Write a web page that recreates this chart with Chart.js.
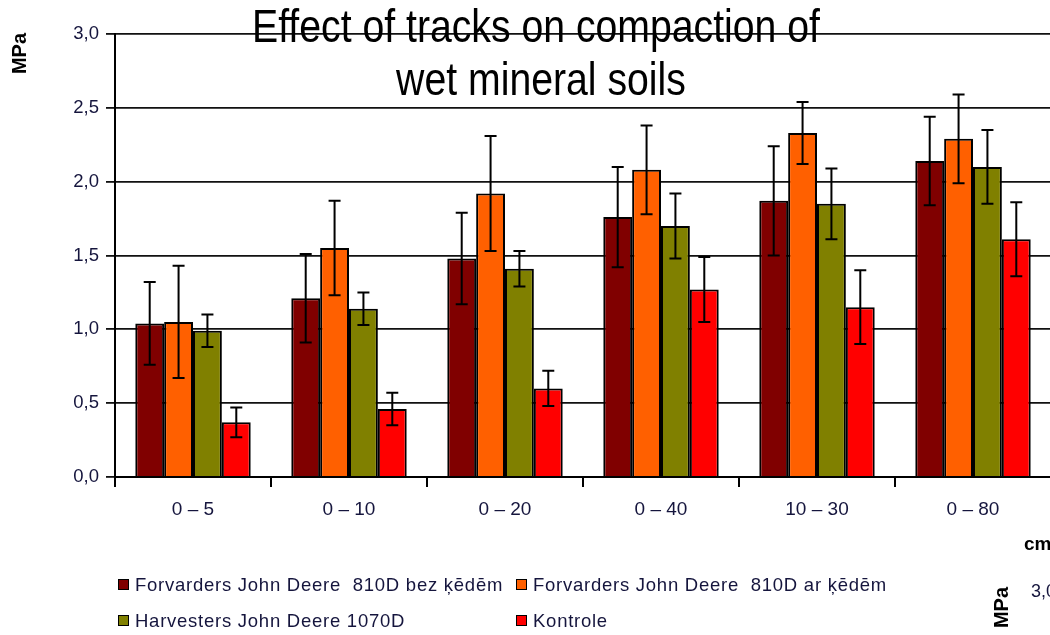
<!DOCTYPE html>
<html>
<head>
<meta charset="utf-8">
<script src="https://cdn.jsdelivr.net/npm/chart.js@4.4.1/dist/chart.umd.min.js"></script>
<style>
  html, body { margin: 0; padding: 0; background: #fff; overflow: hidden; }
  #wrap { position: absolute; left: 0; top: 0; width: 1060px; height: 635px; }
  #legend { position: absolute; left: 0; top: 0; font-family: "Liberation Sans", Arial, sans-serif;
            font-size: 18.5px; letter-spacing: 0.75px; color: #15153d; }
  .item { position: absolute; white-space: pre; line-height: 20px; }
  .box { position: absolute; width: 9px; height: 9px; border: 1.6px solid #000; }
</style>
</head>
<body>
<div id="wrap">
  <canvas id="c" width="1060" height="635"></canvas>
  <div id="legend"></div>
</div>
<script>
// Soil penetration resistance (MPa) by depth interval (cm)
const categories = ['0 – 5', '0 – 10', '0 – 20', '0 – 40', '10 – 30', '0 – 80'];

const seriesNames = [
  'Forvarders John Deere  810D bez ķēdēm',
  'Forvarders John Deere  810D ar ķēdēm',
  'Harvesters John Deere 1070D',
  'Kontrole'
];

const bezKedem    = [1.04, 1.21, 1.48, 1.76, 1.87, 2.14];
const bezKedemErr = [0.28, 0.30, 0.31, 0.34, 0.37, 0.30];

const arKedem     = [1.05, 1.55, 1.92, 2.08, 2.33, 2.29];
const arKedemErr  = [0.38, 0.32, 0.39, 0.30, 0.21, 0.30];

const harvesters    = [0.99, 1.14, 1.41, 1.70, 1.85, 2.10];
const harvestersErr = [0.11, 0.11, 0.12, 0.22, 0.24, 0.25];

const kontrole    = [0.37, 0.46, 0.60, 1.27, 1.15, 1.61];
const kontroleErr = [0.10, 0.11, 0.12, 0.22, 0.25, 0.25];

const yTicks = { min: 0, max: 3, step: 0.5 };

const titleLines = ['Effect of tracks on compaction of', 'wet mineral soils'];

const colors = ['#800000', '#FF6000', '#808000', '#FF0000'];
const textColor = '#15153d';
const baseFont = '"Liberation Sans", Arial, sans-serif';

const values = [bezKedem, arKedem, harvesters, kontrole];
const errors = [bezKedemErr, arKedemErr, harvestersErr, kontroleErr];

const datasets = seriesNames.map((name, i) => ({
  label: name,
  data: values[i],
  errors: errors[i],
  backgroundColor: colors[i],
  borderColor: '#000',
  borderWidth: 2,
  categoryPercentage: 0.74,
  barPercentage: 1.0
}));

// Vertical error bars with caps, placed through the value scale
const errorBars = {
  id: 'errorBars',
  afterDatasetsDraw(chart) {
    const ctx = chart.ctx;
    const y = chart.scales.y;
    ctx.save();
    ctx.strokeStyle = '#000';
    ctx.lineWidth = 2;
    chart.data.datasets.forEach((ds, di) => {
      const meta = chart.getDatasetMeta(di);
      meta.data.forEach((bar, j) => {
        const v = ds.data[j], e = ds.errors[j];
        const yt = y.getPixelForValue(v + e);
        const yb = y.getPixelForValue(v - e);
        const x = bar.x, cap = 6;
        ctx.beginPath();
        ctx.moveTo(x, yt); ctx.lineTo(x, yb);
        ctx.moveTo(x - cap, yt); ctx.lineTo(x + cap, yt);
        ctx.moveTo(x - cap, yb); ctx.lineTo(x + cap, yb);
        ctx.stroke();
      });
    });
    ctx.restore();
  }
};

// Condensed title, axis units and the neighbouring panel's edge labels
const annotations = {
  id: 'annotations',
  afterDraw(chart) {
    const ctx = chart.ctx;
    ctx.save();
    ctx.fillStyle = '#000';
    ctx.textAlign = 'center';
    ctx.textBaseline = 'alphabetic';
    ctx.font = '46px ' + baseFont;
    const sx = 568 / ctx.measureText(titleLines[0]).width;
    ctx.save();
    ctx.scale(sx, 1);
    ctx.fillText(titleLines[0], 536 / sx, 42);
    ctx.fillText(titleLines[1], 541 / sx, 95);
    ctx.restore();

    ctx.font = 'bold 20px ' + baseFont;
    ctx.textAlign = 'right';
    ctx.textBaseline = 'middle';
    ctx.save();
    ctx.translate(20, 33);
    ctx.rotate(-Math.PI / 2);
    ctx.fillText('MPa', 0, 0);
    ctx.restore();

    ctx.save();
    ctx.translate(1002, 587);
    ctx.rotate(-Math.PI / 2);
    ctx.fillText('MPa', 0, 0);
    ctx.restore();

    ctx.textAlign = 'left';
    ctx.font = 'bold 19px ' + baseFont;
    ctx.fillText('cm', 1024, 545);

    ctx.font = '18px ' + baseFont;
    ctx.fillStyle = textColor;
    ctx.fillText('3,0', 1031, 592);
    ctx.restore();
  }
};

const chart = new Chart(document.getElementById('c'), {
  type: 'bar',
  data: { labels: categories, datasets },
  options: {
    responsive: false,
    animation: false,
    devicePixelRatio: 1,
    layout: { padding: { top: 34, right: 9, bottom: 0, left: 0 } },
    plugins: { legend: { display: false }, title: { display: false }, tooltip: { enabled: false } },
    scales: {
      x: {
        grid: { drawOnChartArea: false, drawTicks: true, tickLength: 10, color: '#000', lineWidth: 2, offset: true },
        border: { color: '#000', width: 2 },
        ticks: { color: textColor, font: { family: baseFont, size: 19 }, padding: 11, maxRotation: 0 },
        afterFit(s) { s.height = 158; }
      },
      y: {
        min: yTicks.min, max: yTicks.max,
        grid: { color: '#111', lineWidth: 1.8, tickLength: 9 },
        border: { color: '#000', width: 2 },
        ticks: {
          stepSize: yTicks.step,
          color: textColor,
          font: { family: baseFont, size: 18.5 },
          padding: 7,
          callback: v => v.toFixed(1).replace('.', ',')
        },
        afterFit(s) { s.width = 115; }
      }
    }
  },
  plugins: [errorBars, annotations]
});

// Two-column legend beneath the plot
const legendPos = [[118, 575], [516, 575], [118, 611], [516, 611]];
const legend = document.getElementById('legend');
chart.data.datasets.forEach((ds, i) => {
  const [lx, ly] = legendPos[i];
  const box = document.createElement('div');
  box.className = 'box';
  box.style.left = lx + 'px';
  box.style.top = (ly + 4) + 'px';
  box.style.background = ds.backgroundColor;
  const t = document.createElement('div');
  t.className = 'item';
  t.style.left = (lx + 17) + 'px';
  t.style.top = ly + 'px';
  t.textContent = ds.label;
  legend.appendChild(box);
  legend.appendChild(t);
});
</script>
</body>
</html>
